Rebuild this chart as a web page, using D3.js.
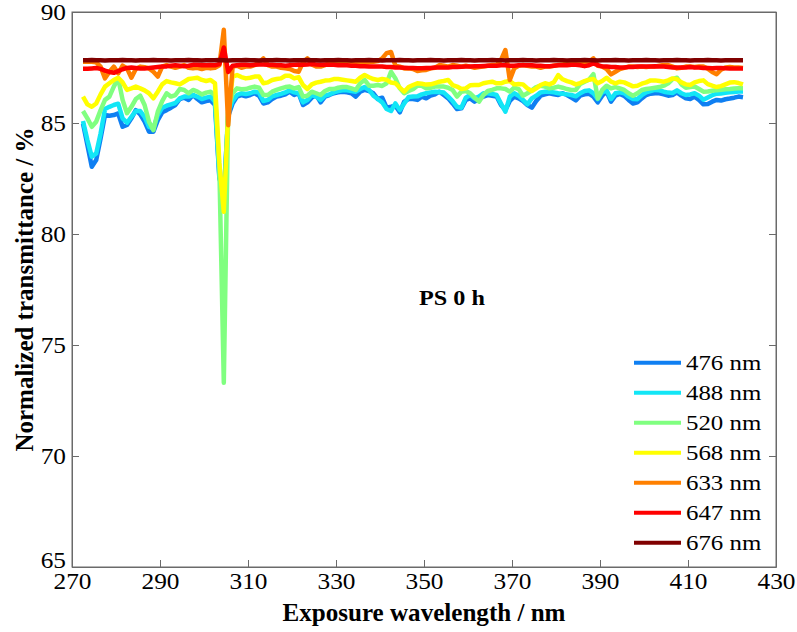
<!DOCTYPE html>
<html>
<head>
<meta charset="utf-8">
<script src="https://cdn.jsdelivr.net/npm/d3@7"></script>
<style>
  html, body { margin: 0; padding: 0; background: #fff; }
  svg { display: block; }
  text { font-family: "Liberation Serif", "Times New Roman", serif; fill: #000; }
</style>
</head>
<body>
<svg id="chart" width="797" height="632"></svg>
<script>
// Exposure wavelength grid (nm), one sample per nanometre
const wavelengths = d3.range(272.5, 423, 1);

// Normalized transmittance (%) for each probe wavelength
const t476 = [
  84.98, 84.01, 83.03, 83.33, 84.31, 85.36, 85.33, 85.36, 85.43, 84.83,
  84.91, 85.21, 85.58, 85.39, 85.06, 84.61, 84.61, 85.13, 85.48, 85.58,
  85.69, 85.81, 86.08, 86.14, 86.04, 86.26, 86.08, 85.93, 85.99, 86.02,
  85.81, 82.50, 81.80, 85.30, 85.88, 86.19, 86.26, 86.20, 86.26, 86.34,
  86.23, 85.88, 85.93, 86.08, 86.19, 86.23, 86.29, 86.41, 86.26, 86.34,
  85.81, 85.93, 86.14, 86.26, 85.93, 86.19, 86.26, 86.34, 86.38, 86.41,
  86.38, 86.34, 86.19, 86.41, 86.49, 86.44, 86.34, 86.08, 86.14, 85.69,
  85.73, 85.78, 85.48, 85.96, 86.08, 86.08, 86.04, 86.19, 86.11, 86.23,
  86.29, 86.41, 86.26, 86.11, 85.88, 85.63, 85.66, 86.04, 86.11, 85.96,
  86.08, 86.19, 86.26, 86.23, 86.19, 85.81, 85.58, 85.99, 86.19, 86.11,
  85.99, 85.81, 85.69, 85.99, 86.23, 86.29, 86.34, 86.29, 86.26, 86.34,
  86.26, 86.14, 86.02, 86.23, 86.29, 86.32, 86.19, 85.93, 86.23, 86.41,
  85.96, 86.23, 86.31, 86.22, 86.04, 85.88, 85.93, 86.11, 86.26, 86.32,
  86.34, 86.34, 86.29, 86.23, 86.26, 86.38, 86.23, 86.11, 86.08, 86.19,
  86.04, 85.84, 85.86, 85.96, 86.04, 86.01, 86.07, 86.10, 86.14, 86.19,
  86.16
];
const t488 = [
  85.09, 84.23, 83.48, 83.63, 84.53, 85.63, 85.73, 85.81, 85.87, 85.21,
  85.01, 85.28, 85.54, 85.54, 85.28, 84.83, 84.76, 85.36, 85.69, 85.78,
  85.84, 85.90, 86.11, 86.19, 86.19, 86.26, 86.19, 86.08, 86.14, 86.19,
  85.96, 82.60, 81.60, 85.50, 85.99, 86.26, 86.34, 86.31, 86.34, 86.41,
  86.37, 85.99, 86.04, 86.20, 86.26, 86.31, 86.38, 86.47, 86.38, 86.34,
  85.93, 86.04, 86.26, 86.19, 86.04, 86.23, 86.29, 86.38, 86.44, 86.47,
  86.47, 86.44, 86.41, 86.53, 86.62, 86.49, 86.23, 86.08, 85.93, 85.63,
  85.54, 85.88, 85.58, 85.88, 86.17, 86.19, 86.20, 86.29, 86.34, 86.38,
  86.41, 86.40, 86.37, 86.19, 85.99, 85.73, 85.69, 86.14, 86.26, 86.11,
  86.19, 86.34, 86.34, 86.31, 86.26, 85.88, 85.51, 86.19, 86.34, 86.23,
  86.04, 85.84, 86.11, 86.23, 86.38, 86.41, 86.41, 86.38, 86.34, 86.32,
  86.29, 86.26, 86.20, 86.34, 86.44, 86.47, 86.34, 86.08, 86.38, 86.47,
  86.08, 86.34, 86.38, 86.34, 86.19, 86.08, 86.07, 86.26, 86.38, 86.44,
  86.49, 86.47, 86.41, 86.37, 86.35, 86.47, 86.34, 86.26, 86.29, 86.34,
  86.23, 86.05, 86.15, 86.25, 86.32, 86.33, 86.36, 86.38, 86.40, 86.42,
  86.42
];
const t520 = [
  85.54, 85.21, 84.83, 85.06, 85.58, 86.04, 86.19, 86.64, 87.01, 86.04,
  85.44, 85.73, 86.08, 86.23, 85.81, 85.06, 84.68, 85.51, 85.99, 86.34,
  86.19, 86.26, 86.53, 86.49, 86.34, 86.49, 86.41, 86.29, 86.37, 86.41,
  86.23, 82.90, 73.30, 85.60, 86.34, 86.56, 86.52, 86.53, 86.59, 86.64,
  86.59, 86.26, 86.26, 86.41, 86.49, 86.56, 86.62, 86.64, 86.56, 86.62,
  86.19, 86.23, 86.41, 86.34, 86.26, 86.44, 86.53, 86.53, 86.59, 86.62,
  86.62, 86.56, 86.49, 86.79, 86.94, 86.68, 86.68, 86.71, 86.67, 86.79,
  87.31, 87.01, 86.56, 86.34, 86.44, 86.52, 86.68, 86.68, 86.56, 86.59,
  86.64, 86.64, 86.64, 86.59, 86.49, 86.19, 86.41, 86.44, 86.34, 86.14,
  85.96, 86.26, 86.44, 86.49, 86.56, 86.56, 86.53, 86.41, 86.59, 86.53,
  86.23, 86.34, 86.47, 86.62, 86.68, 86.64, 86.56, 86.59, 86.64, 86.59,
  86.53, 86.49, 86.49, 86.76, 86.86, 86.95, 87.20, 86.10, 86.49, 86.68,
  86.56, 86.62, 86.56, 86.49, 86.34, 86.23, 86.34, 86.49, 86.53, 86.56,
  86.59, 86.62, 86.68, 86.79, 86.98, 87.04, 86.74, 86.59, 86.62, 86.64,
  86.53, 86.41, 86.42, 86.45, 86.48, 86.50, 86.52, 86.53, 86.55, 86.56,
  86.56
];
const t568 = [
  86.19, 85.84, 85.73, 85.88, 86.29, 86.64, 86.79, 86.94, 87.04, 86.83,
  86.49, 86.56, 86.64, 86.56, 86.47, 86.34, 86.11, 86.41, 86.74, 86.89,
  86.83, 86.79, 86.74, 86.86, 86.98, 87.01, 87.04, 86.94, 86.89, 86.94,
  86.79, 83.20, 81.00, 85.50, 87.09, 87.16, 87.07, 87.01, 87.04, 87.09,
  87.09, 86.79, 86.83, 86.94, 86.98, 87.01, 87.13, 87.13, 87.01, 87.07,
  86.71, 86.53, 86.74, 86.82, 86.86, 86.91, 86.92, 86.98, 86.98, 86.95,
  86.92, 86.89, 86.86, 87.04, 87.16, 87.06, 86.98, 86.94, 86.98, 86.95,
  86.82, 86.79, 86.59, 86.41, 86.62, 86.71, 86.79, 86.77, 86.73, 86.74,
  86.80, 86.86, 86.89, 86.94, 86.71, 86.64, 86.53, 86.56, 86.70, 86.71,
  86.71, 86.79, 86.83, 86.86, 86.79, 86.79, 86.86, 86.89, 86.74, 86.76,
  86.74, 86.56, 86.44, 86.56, 86.71, 86.79, 86.74, 86.83, 87.16, 86.97,
  86.89, 86.83, 86.74, 86.80, 86.89, 86.95, 86.98, 86.79, 86.89, 87.04,
  86.86, 86.79, 86.86, 86.83, 86.74, 86.65, 86.68, 86.77, 86.83, 86.92,
  86.92, 86.89, 86.86, 86.92, 87.01, 86.97, 86.83, 86.74, 86.71, 86.83,
  86.89, 86.92, 86.75, 86.68, 86.62, 86.66, 86.74, 86.82, 86.84, 86.80,
  86.74
];
const t633 = [
  87.76, 87.76, 87.76, 87.73, 87.54, 87.01, 87.31, 87.54, 87.24, 87.58,
  87.46, 87.04, 87.43, 87.54, 87.51, 87.46, 87.31, 87.09, 87.54, 87.61,
  87.54, 87.49, 87.54, 87.61, 87.49, 87.46, 87.49, 87.43, 87.49, 87.46,
  87.49, 87.60, 89.20, 84.90, 87.54, 87.58, 87.49, 87.54, 87.54, 87.61,
  87.73, 87.91, 87.61, 87.54, 87.54, 87.49, 87.46, 87.43, 87.34, 87.31,
  87.73, 87.91, 87.64, 87.54, 87.54, 87.61, 87.69, 87.73, 87.73, 87.72,
  87.70, 87.69, 87.69, 87.69, 87.72, 87.73, 87.76, 87.79, 87.91, 88.15,
  88.20, 87.58, 87.54, 87.46, 87.46, 87.43, 87.34, 87.37, 87.39, 87.46,
  87.49, 87.61, 87.58, 87.54, 87.61, 87.58, 87.54, 87.58, 87.54, 87.49,
  87.52, 87.54, 87.58, 87.61, 87.61, 87.84, 88.29, 86.94, 87.46, 87.58,
  87.61, 87.58, 87.54, 87.54, 87.49, 87.54, 87.54, 87.58, 87.61, 87.64,
  87.67, 87.69, 87.69, 87.64, 87.69, 87.76, 87.91, 87.58, 87.54, 87.43,
  87.19, 87.31, 87.43, 87.49, 87.54, 87.54, 87.52, 87.54, 87.52, 87.54,
  87.55, 87.58, 87.61, 87.61, 87.54, 87.46, 87.49, 87.54, 87.54, 87.52,
  87.54, 87.54, 87.45, 87.30, 87.20, 87.40, 87.50, 87.52, 87.50, 87.50,
  87.48
];
const t647 = [
  87.44, 87.44, 87.46, 87.48, 87.44, 87.36, 87.30, 87.26, 87.34, 87.42,
  87.48, 87.50, 87.48, 87.46, 87.46, 87.48, 87.50, 87.52, 87.54, 87.55,
  87.58, 87.60, 87.58, 87.56, 87.58, 87.62, 87.62, 87.60, 87.60, 87.61,
  87.60, 87.65, 88.40, 87.30, 87.58, 87.60, 87.62, 87.62, 87.60, 87.62,
  87.64, 87.64, 87.62, 87.62, 87.60, 87.60, 87.58, 87.60, 87.62, 87.64,
  87.62, 87.64, 87.66, 87.64, 87.62, 87.63, 87.62, 87.62, 87.60, 87.60,
  87.60, 87.58, 87.58, 87.56, 87.56, 87.55, 87.55, 87.55, 87.54, 87.52,
  87.52, 87.50, 87.50, 87.49, 87.48, 87.48, 87.47, 87.47, 87.48, 87.48,
  87.50, 87.50, 87.50, 87.50, 87.52, 87.52, 87.53, 87.54, 87.55, 87.56,
  87.56, 87.57, 87.58, 87.58, 87.58, 87.60, 87.60, 87.58, 87.58, 87.60,
  87.60, 87.60, 87.60, 87.58, 87.58, 87.56, 87.56, 87.58, 87.60, 87.60,
  87.60, 87.62, 87.62, 87.60, 87.56, 87.60, 87.68, 87.60, 87.55, 87.55,
  87.52, 87.52, 87.50, 87.50, 87.52, 87.52, 87.54, 87.54, 87.55, 87.55,
  87.56, 87.55, 87.54, 87.52, 87.50, 87.50, 87.50, 87.50, 87.52, 87.50,
  87.50, 87.48, 87.48, 87.47, 87.48, 87.48, 87.47, 87.46, 87.46, 87.46,
  87.46
];
const t676 = [
  87.83, 87.83, 87.84, 87.83, 87.83, 87.82, 87.83, 87.83, 87.83, 87.84,
  87.83, 87.83, 87.82, 87.83, 87.83, 87.83, 87.84, 87.83, 87.83, 87.83,
  87.82, 87.83, 87.83, 87.83, 87.84, 87.83, 87.83, 87.82, 87.83, 87.83,
  87.83, 87.84, 87.83, 87.82, 87.83, 87.83, 87.83, 87.84, 87.83, 87.83,
  87.82, 87.83, 87.83, 87.83, 87.84, 87.83, 87.83, 87.82, 87.83, 87.83,
  87.83, 87.84, 87.83, 87.83, 87.82, 87.83, 87.83, 87.83, 87.84, 87.83,
  87.83, 87.82, 87.83, 87.83, 87.83, 87.84, 87.83, 87.83, 87.82, 87.83,
  87.83, 87.83, 87.84, 87.83, 87.83, 87.82, 87.83, 87.83, 87.83, 87.84,
  87.83, 87.83, 87.82, 87.83, 87.83, 87.83, 87.84, 87.83, 87.83, 87.82,
  87.83, 87.83, 87.83, 87.84, 87.83, 87.83, 87.82, 87.83, 87.83, 87.83,
  87.84, 87.83, 87.83, 87.82, 87.83, 87.83, 87.83, 87.84, 87.83, 87.83,
  87.82, 87.83, 87.83, 87.83, 87.84, 87.83, 87.83, 87.82, 87.83, 87.83,
  87.83, 87.84, 87.83, 87.83, 87.82, 87.83, 87.83, 87.83, 87.84, 87.83,
  87.83, 87.82, 87.83, 87.83, 87.83, 87.84, 87.83, 87.83, 87.82, 87.83,
  87.83, 87.83, 87.84, 87.83, 87.83, 87.82, 87.83, 87.83, 87.83, 87.83,
  87.83
];

const seriesLabels = ["476 nm", "488 nm", "520 nm", "568 nm", "633 nm", "647 nm", "676 nm"];
const seriesColors = ["#0f7ff2", "#12e6f6", "#80ff80", "#ffff00", "#ff8000", "#ff0000", "#800000"];
const seriesValues = [t476, t488, t520, t568, t633, t647, t676];

const xTicks = [270, 290, 310, 330, 350, 370, 390, 410, 430];
const yTicks = [65, 70, 75, 80, 85, 90];

const xTitle = "Exposure wavelength / nm";
const yTitle = "Normalized transmittance / %";
const note = "PS 0 h";

// ---- layout ----
const plot = { left: 72, top: 12, right: 776, bottom: 567 };
const axisColor = "#6a6a6a";

const svg = d3.select("#chart");

const x = d3.scaleLinear().domain([270, 430]).range([plot.left, plot.right]);
const y = d3.scaleLinear().domain([65, 90]).range([plot.bottom, plot.top]);

// widen serif glyphs slightly so text proportions follow the figure
function stretch(sel, factor) {
  sel.each(function () {
    const w = this.getComputedTextLength();
    this.setAttribute("textLength", (w * factor).toFixed(1));
    this.setAttribute("lengthAdjust", "spacingAndGlyphs");
  });
}

// clip curves to the axes box
svg.append("defs").append("clipPath").attr("id", "plotClip")
  .append("rect")
  .attr("x", plot.left).attr("y", plot.top)
  .attr("width", plot.right - plot.left).attr("height", plot.bottom - plot.top);

// curves
const line = d3.line()
  .x((d, i) => x(wavelengths[i]))
  .y(d => y(d));

svg.append("g").attr("clip-path", "url(#plotClip)")
  .selectAll("path")
  .data(seriesValues)
  .join("path")
  .attr("d", d => line(d))
  .attr("fill", "none")
  .attr("stroke", (d, i) => seriesColors[i])
  .attr("stroke-width", 4.5)
  .attr("stroke-linejoin", "round")
  .attr("stroke-linecap", "butt");

// axes with inward ticks on all four sides
const tickLen = 7;
const gx = svg.append("g").attr("transform", `translate(0,${plot.bottom})`)
  .call(d3.axisBottom(x).tickValues(xTicks).tickSizeInner(-tickLen).tickSizeOuter(0).tickPadding(6));
const gy = svg.append("g").attr("transform", `translate(${plot.left},0)`)
  .call(d3.axisLeft(y).tickValues(yTicks).tickSizeInner(-tickLen).tickSizeOuter(0).tickPadding(6));
const gt = svg.append("g").attr("transform", `translate(0,${plot.top})`)
  .call(d3.axisTop(x).tickValues(xTicks).tickSizeInner(-tickLen).tickSizeOuter(0).tickFormat(""));
const gr = svg.append("g").attr("transform", `translate(${plot.right},0)`)
  .call(d3.axisRight(y).tickValues(yTicks).tickSizeInner(-tickLen).tickSizeOuter(0).tickFormat(""));

[gx, gy, gt, gr].forEach(g => {
  g.select(".domain").attr("stroke", axisColor);
  g.selectAll(".tick line").attr("stroke", axisColor);
  g.selectAll(".tick text")
    .attr("font-family", "Liberation Serif, Times New Roman, serif")
    .attr("font-size", 23)
    .attr("fill", "#000");
});
stretch(gx.selectAll(".tick text"), 1.1);
stretch(gy.selectAll(".tick text"), 1.1);
// lowest y label sits just above the first x label
gy.selectAll(".tick").filter(d => d === 65).select("text").attr("dy", "0.02em");

// box outline
svg.append("rect")
  .attr("x", plot.left).attr("y", plot.top)
  .attr("width", plot.right - plot.left).attr("height", plot.bottom - plot.top)
  .attr("fill", "none").attr("stroke", axisColor).attr("stroke-width", 1);

// axis titles
svg.append("text")
  .attr("x", (plot.left + plot.right) / 2).attr("y", 621)
  .attr("text-anchor", "middle")
  .attr("font-size", 25).attr("font-weight", "bold")
  .attr("textLength", 283).attr("lengthAdjust", "spacingAndGlyphs")
  .text(xTitle);

svg.append("text")
  .attr("transform", `translate(33,${(plot.top + plot.bottom) / 2}) rotate(-90)`)
  .attr("text-anchor", "middle")
  .attr("font-size", 25).attr("font-weight", "bold")
  .attr("textLength", 324).attr("lengthAdjust", "spacingAndGlyphs")
  .text(yTitle);

// sample annotation
svg.append("text")
  .attr("x", 452).attr("y", 297)
  .attr("dy", "0.35em")
  .attr("text-anchor", "middle")
  .attr("font-size", 22).attr("font-weight", "bold")
  .text(note)
  .call(s => stretch(s, 1.1));

// legend
const legend = svg.append("g");
const legY0 = 362.7, legStep = 30;
const items = legend.selectAll("g")
  .data(seriesLabels)
  .join("g")
  .attr("transform", (d, i) => `translate(0,${legY0 + i * legStep})`);
items.append("line")
  .attr("x1", 634).attr("x2", 681)
  .attr("y1", 0).attr("y2", 0)
  .attr("stroke", (d, i) => seriesColors[i])
  .attr("stroke-width", 4);
items.append("text")
  .attr("x", 686).attr("y", 0).attr("dy", "0.34em")
  .attr("font-size", 22)
  .text(d => d)
  .call(s => stretch(s, 1.13));
</script>
</body>
</html>
